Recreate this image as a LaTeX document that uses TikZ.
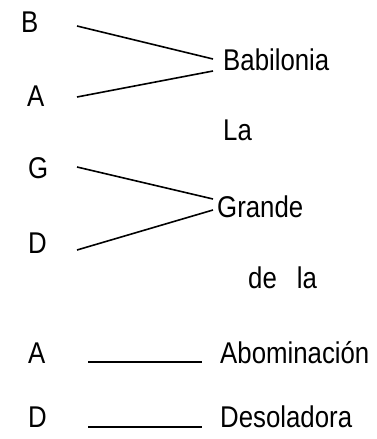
\documentclass[tikz,border=0pt]{standalone}
\usepackage{fontspec}
\setmainfont[FakeStretch=0.86]{Liberation Sans}
\begin{document}
\begin{tikzpicture}[x=1pt,y=-1pt,
  lbl/.style={font=\fontsize{30}{34}\selectfont, inner sep=0pt, anchor=base west},
  conn/.style={line width=1.6pt}]
\useasboundingbox (0,0) rectangle (376,439);
\node[lbl] (B) at (21,32) {B};
\node[lbl] (A1) at (27,106) {A};
\node[lbl] (Bab) at (223,70) {Babilonia};
\node[lbl] (La) at (223,140) {La};
\node[lbl] (G) at (28,178) {G};
\node[lbl] (D1) at (28,253) {D};
\node[lbl] (Gr) at (217,217) {Grande};
\node[lbl] (dela) at (248,288) {de\hspace{20pt}la};
\node[lbl] (A2) at (28,363) {A};
\node[lbl] (Abo) at (220,363) {Abominación};
\node[lbl] (D2) at (28,427) {D};
\node[lbl] (Des) at (220,427) {Desoladora};
\coordinate (bs) at (77,26);  \coordinate (be) at (213,59);
\coordinate (as) at (77,97);  \coordinate (ae) at (213,71);
\coordinate (gs) at (77,167); \coordinate (ge) at (213,199);
\coordinate (ds) at (77,250); \coordinate (de) at (213,210);
\coordinate (a2s) at (88,362); \coordinate (a2e) at (202,362);
\coordinate (d2s) at (88,427); \coordinate (d2e) at (202,427);
\draw[conn] (bs) -- (be);
\draw[conn] (as) -- (ae);
\draw[conn] (gs) -- (ge);
\draw[conn] (ds) -- (de);
\draw[conn] (a2s) -- (a2e);
\draw[conn] (d2s) -- (d2e);
\end{tikzpicture}
\end{document}
